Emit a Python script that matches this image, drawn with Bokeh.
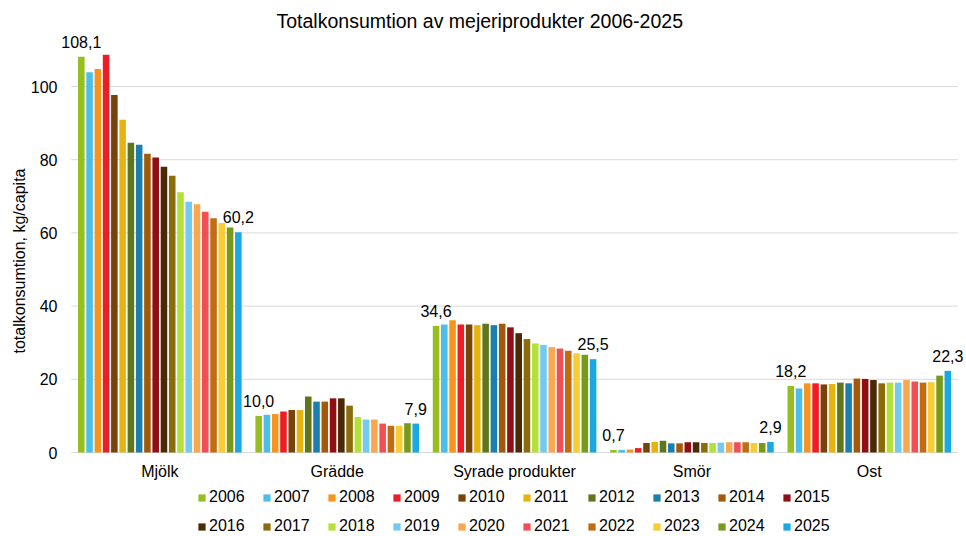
from bokeh.plotting import figure
from bokeh.models import (ColumnDataSource, Range1d, Legend, LegendItem, LabelSet,
                          FixedTicker, Title)
from bokeh.core.properties import value
from bokeh.transform import dodge
from bokeh.embed import file_html
from bokeh.resources import INLINE

categories = ["Mjölk", "Grädde", "Syrade produkter", "Smör", "Ost"]
years = [str(y) for y in range(2006, 2026)]
yticks = [0, 20, 40, 60, 80, 100]

# values per year: [Mjölk, Grädde, Syrade produkter, Smör, Ost]
v2006 = [108.1, 10.0, 34.6, 0.7, 18.2]
v2007 = [103.9, 10.3, 35.0, 0.7, 17.5]
v2008 = [104.8, 10.5, 36.1, 0.8, 18.9]
v2009 = [108.7, 11.2, 35.0, 1.2, 18.9]
v2010 = [97.7, 11.6, 35.0, 2.6, 18.6]
v2011 = [90.9, 11.6, 34.8, 2.9, 18.7]
v2012 = [84.6, 15.3, 35.2, 3.2, 19.1]
v2013 = [84.1, 13.9, 34.8, 2.5, 18.9]
v2014 = [81.6, 13.9, 35.2, 2.5, 20.2]
v2015 = [80.6, 14.8, 34.2, 2.8, 20.1]
v2016 = [78.1, 14.8, 32.6, 2.8, 19.8]
v2017 = [75.6, 12.8, 31.0, 2.6, 18.9]
v2018 = [71.1, 9.7, 29.8, 2.6, 19.1]
v2019 = [68.5, 9.0, 29.4, 2.7, 19.1]
v2020 = [67.8, 9.0, 28.8, 2.8, 19.8]
v2021 = [65.8, 7.9, 28.4, 2.8, 19.4]
v2022 = [64.0, 7.3, 27.8, 2.8, 19.1]
v2023 = [62.7, 7.3, 27.1, 2.6, 19.2]
v2024 = [61.5, 8.0, 26.7, 2.6, 21.0]
v2025 = [60.2, 7.9, 25.5, 2.9, 22.3]

series = [v2006, v2007, v2008, v2009, v2010, v2011, v2012, v2013, v2014, v2015,
          v2016, v2017, v2018, v2019, v2020, v2021, v2022, v2023, v2024, v2025]

colors = ["#95BE1E", "#4DBDEA", "#F7941E", "#EE1D25", "#774308", "#E6B410", "#5F771A",
          "#1A7EAE", "#A3590B", "#8F0F15", "#4A2A04", "#8A6D0A", "#B4E03A", "#73CAF0",
          "#FAA74F", "#F24E56", "#C26C0F", "#F8CC33", "#779A18", "#1AA8E3"]

FONT = "Liberation Sans"
TXT = "#000000"
FS = "16px"

ncat = len(categories)
xc = [i + 0.5 for i in range(ncat)]  # centre of each category slot
data = {"cat": categories, "xc": xc}
for y, vals in zip(years, series):
    data[y] = vals
source = ColumnDataSource(data)

# frame: top at canvas y=32, value 0 at canvas y=452, bottom at canvas y=536
PXU = 3.66
p = figure(x_range=Range1d(-0.060, ncat + 0.048),
           y_range=Range1d(-(536 - 452) / PXU, (452 - 32) / PXU),
           width=966, height=536, output_backend="svg", toolbar_location=None,
           min_border_left=60, min_border_right=0, min_border_top=32, min_border_bottom=0)
p.outline_line_color = None
p.xgrid.visible = False
p.ygrid.visible = False
p.xaxis.visible = False

# horizontal gridlines spanning the category area
p.segment(x0=0, x1=ncat, y0=yticks, y1=yticks, line_color="#D9D9D9", line_width=1)

pitch = 0.0466
bw = 0.037
renderers = []
for j, (y, c) in enumerate(zip(years, colors)):
    off = (j - 9.5) * pitch
    r = p.vbar(x=dodge("xc", off), top=y, width=bw, source=source,
               fill_color=c, line_color=None)
    renderers.append((y, r))

# data labels for first and last year
for j, y in [(0, "2006"), (19, "2025")]:
    off = (j - 9.5) * pitch
    lsrc = ColumnDataSource(dict(xc=xc, val=data[y],
                                 txt=[f"{v:.1f}".replace(".", ",") for v in data[y]]))
    ls = LabelSet(x=dodge("xc", off), y="val", text="txt", source=lsrc,
                  text_align="center", text_baseline="alphabetic", y_offset=9,
                  text_font=value(FONT), text_font_size=FS, text_color=TXT)
    p.add_layout(ls)

# category labels below the baseline
p.text(x="xc", y=0, text="cat", source=source,
       text_align="center", text_baseline="top", y_offset=10,
       text_font=value(FONT), text_font_size=FS, text_color=TXT)

p.title.text = "Totalkonsumtion av mejeriprodukter 2006-2025"
p.title.align = "left"
p.title.offset = 216
p.title.standoff = 2
p.title.text_font = FONT
p.title.text_font_size = "19.5px"
p.title.text_font_style = "normal"
p.title.text_color = TXT

ytitle = Title(text="totalkonsumtion, kg/capita", align="left", offset=183, standoff=0,
               text_font=FONT, text_font_size=FS, text_font_style="normal", text_color=TXT)
p.add_layout(ytitle, "left")

p.yaxis.ticker = FixedTicker(ticks=yticks)
p.yaxis.axis_line_color = None
p.yaxis.major_tick_line_color = None
p.yaxis.minor_tick_line_color = None
p.yaxis.major_tick_out = 0
p.yaxis.major_label_standoff = 3
p.yaxis.major_label_text_font = FONT
p.yaxis.major_label_text_font_size = FS
p.yaxis.major_label_text_color = TXT

legend = Legend(items=[LegendItem(label=y, renderers=[r]) for y, r in renderers],
                orientation="horizontal", ncols=10, location=(137, 0),
                glyph_width=9, glyph_height=9, label_standoff=3, label_width=44,
                label_height=20, spacing=9, padding=0, margin=0,
                border_line_color=None, background_fill_alpha=0,
                label_text_font=FONT, label_text_font_size=FS, label_text_color=TXT)
p.add_layout(legend, "center")

open("out.html", "w").write(file_html(p, INLINE))
